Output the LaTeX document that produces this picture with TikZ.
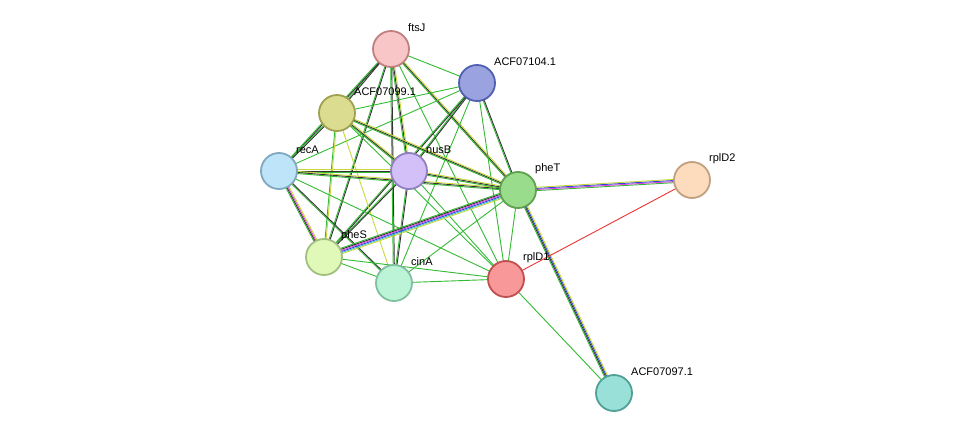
\documentclass[tikz,border=0pt]{standalone}
\usepackage{fontspec}
\setmainfont{Liberation Sans}
\usetikzlibrary{calc}
\definecolor{eg}{HTML}{33BB33}
\definecolor{ey}{HTML}{C8D83C}
\definecolor{ek}{HTML}{333333}
\definecolor{em}{HTML}{DD44DD}
\definecolor{eb}{HTML}{3344DD}
\definecolor{ec}{HTML}{44BBDD}
\definecolor{er}{HTML}{EE3333}
\newcommand\ed[3]{\foreach \cc/\oo in {#3}{\draw[\cc,line width=0.9pt] ($(#1)!\oo*1.1pt!90:(#2)$) -- ($(#2)!\oo*1.1pt!-90:(#1)$);}}
\newcommand\pn[6]{\definecolor{f#1}{HTML}{#4}\definecolor{d#1}{HTML}{#5}\node[pn,fill=f#1,draw=d#1] (#1) at (#2,-#3) {};\node[lb] at ($(#1)+(17,21)$) {#6};}
\begin{document}
\begin{tikzpicture}[x=1pt,y=1pt,
 pn/.style={circle,minimum size=36pt,line width=1.8pt,inner sep=0},
 lb/.style={anchor=west,font=\fontsize{11}{11}\selectfont,inner sep=0}]
\useasboundingbox (0,0) rectangle (975,-439);
\foreach \n/\x/\y in {ftsJ/391/49,A104/477/83,A099/337/113,recA/279/171,nusB/409/171,pheT/518/190,rplDb/692/180,pheS/324/257,cinA/394/283,rplDa/506/279,A097/614/393}{\coordinate (\n) at (\x,-\y);}
\ed{ftsJ}{A104}{eg/0}
\ed{ftsJ}{A099}{eg/-0.5,ek/0.5}
\ed{ftsJ}{recA}{eg/-0.5,ek/0.5}
\ed{ftsJ}{nusB}{eg/-1,ek/0,ey/1}
\ed{ftsJ}{pheT}{eg/-1,ek/0,ey/1}
\ed{ftsJ}{pheS}{eg/-0.5,ek/0.5}
\ed{ftsJ}{cinA}{eg/-0.5,ek/0.5}
\ed{ftsJ}{rplDa}{eg/0}
\ed{A104}{A099}{eg/0}
\ed{A104}{recA}{eg/0}
\ed{A104}{nusB}{eg/-0.5,ek/0.5}
\ed{A104}{pheT}{eg/-0.5,ek/0.5}
\ed{A104}{pheS}{eg/-0.5,ek/0.5}
\ed{A104}{cinA}{eg/0}
\ed{A104}{rplDa}{eg/0}
\ed{A099}{recA}{eg/-0.5,ek/0.5}
\ed{A099}{nusB}{eg/-1,ek/0,ey/1}
\ed{A099}{pheT}{eg/-1,ek/0,ey/1}
\ed{A099}{pheS}{eg/-0.5,ey/0.5}
\ed{A099}{cinA}{ey/0}
\ed{A099}{rplDa}{eg/0}
\ed{recA}{nusB}{eg/-1,ek/0,ey/1}
\ed{recA}{pheT}{eg/-1,ek/0,ey/1}
\ed{recA}{pheS}{eg/-1.5,ek/-0.5,em/0.5,ey/1.5}
\ed{recA}{cinA}{eg/-0.5,ek/0.5}
\ed{recA}{rplDa}{eg/0}
\ed{nusB}{pheT}{eg/-1,ek/0,ey/1}
\ed{nusB}{pheS}{eg/-0.5,ek/0.5}
\ed{nusB}{cinA}{eg/-0.5,ek/0.5}
\ed{nusB}{rplDa}{eg/0}
\ed{pheT}{rplDb}{eg/-1.5,em/-0.5,eb/0.5,ey/1.5}
\ed{pheT}{pheS}{eg/-2.5,ek/-1.5,em/-0.5,eb/0.5,ec/1.5,ey/2.5}
\ed{pheT}{cinA}{eg/0}
\ed{pheT}{rplDa}{eg/0}
\ed{pheT}{A097}{eg/-1.5,ek/-0.5,eb/0.5,ey/1.5}
\ed{pheS}{cinA}{eg/0}
\ed{pheS}{rplDa}{eg/0}
\ed{cinA}{rplDa}{eg/0}
\ed{rplDa}{rplDb}{er/0}
\ed{rplDa}{A097}{eg/0}
\pn{ftsJ}{391}{49}{F8C6C6}{C08080}{ftsJ}
\pn{A104}{477}{83}{9AA3E0}{5060B0}{ACF07104.1}
\pn{A099}{337}{113}{DCDC90}{A0A050}{ACF07099.1}
\pn{recA}{279}{171}{BDE4F8}{80A8C0}{recA}
\pn{nusB}{409}{171}{D4C0F8}{9080C0}{nusB}
\pn{pheT}{518}{190}{98DC8C}{60A050}{pheT}
\pn{rplDb}{692}{180}{FCDCBC}{C0A080}{rplD2}
\pn{pheS}{324}{257}{E0F8B8}{A0C080}{pheS}
\pn{cinA}{394}{283}{BCF4D8}{80C0A0}{cinA}
\pn{rplDa}{506}{279}{F89898}{C05050}{rplD1}
\pn{A097}{614}{393}{98E0D8}{50A098}{ACF07097.1}
\end{tikzpicture}
\end{document}
